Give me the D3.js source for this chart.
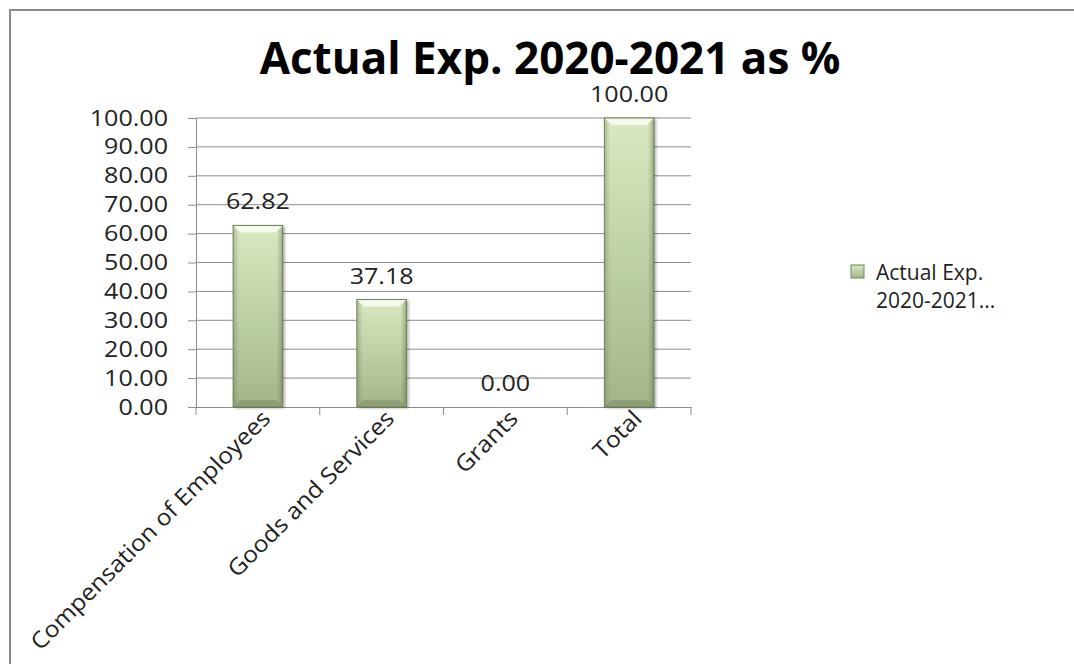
<!DOCTYPE html>
<html>
<head>
<meta charset="utf-8">
<script src="https://cdn.jsdelivr.net/npm/d3@7"></script>
<style>
  html, body { margin: 0; padding: 0; background: #fff; }
  svg { display: block; }
  text { font-family: "Open Sans", "DejaVu Sans", sans-serif; }
</style>
</head>
<body>
<svg id="chart" width="1074" height="664"></svg>
<script>
// ---- data ----
const categories = ["Compensation of Employees", "Goods and Services", "Grants", "Total"];
const values = [62.82, 37.18, 0.00, 100.00];
const yTicks = [0, 10, 20, 30, 40, 50, 60, 70, 80, 90, 100];
const chartTitle = "Actual Exp. 2020-2021 as %";
const legendLines = ["Actual Exp.", "2020-2021..."];

// ---- layout ----
const W = 1074, H = 664;
const plot = { left: 196, right: 691, top: 118, bottom: 407 };
const svg = d3.select("#chart");

// widen glyphs horizontally (reference text is slightly stretched)
function stretch(sel, f) {
  sel.each(function () {
    const len = this.getComputedTextLength();
    d3.select(this).attr("textLength", len * f).attr("lengthAdjust", "spacingAndGlyphs");
  });
}

const x = d3.scaleBand().domain(categories).range([plot.left, plot.right]).paddingInner(0.6).paddingOuter(0.3);
const xOuter = d3.scaleBand().domain(categories).range([plot.left, plot.right]);
const y = d3.scaleLinear().domain([0, 100]).range([plot.bottom, plot.top]);

// defs
const defs = svg.append("defs");
const gv = defs.append("linearGradient").attr("id", "barV").attr("x1", 0).attr("y1", 0).attr("x2", 0).attr("y2", 1);
gv.append("stop").attr("offset", "0%").attr("stop-color", "#d9eac2");
gv.append("stop").attr("offset", "100%").attr("stop-color", "#a3b588");
const gh = defs.append("linearGradient").attr("id", "barH").attr("x1", 0).attr("y1", 0).attr("x2", 1).attr("y2", 0);
gh.append("stop").attr("offset", "0%").attr("stop-color", "#5d6b48").attr("stop-opacity", 0.35);
gh.append("stop").attr("offset", "12%").attr("stop-color", "#5d6b48").attr("stop-opacity", 0.0);
gh.append("stop").attr("offset", "88%").attr("stop-color", "#5d6b48").attr("stop-opacity", 0.0);
gh.append("stop").attr("offset", "100%").attr("stop-color", "#5d6b48").attr("stop-opacity", 0.45);
const shadow = defs.append("filter").attr("id", "shadow").attr("x", "-20%").attr("y", "-5%").attr("width", "150%").attr("height", "115%");
shadow.append("feDropShadow").attr("dx", 2).attr("dy", 1).attr("stdDeviation", 1.5).attr("flood-color", "#000").attr("flood-opacity", 0.35);

// border (only top/left visible in reference)
svg.append("rect").attr("x", 10).attr("y", 10).attr("width", W + 20).attr("height", H + 20)
  .attr("fill", "none").attr("stroke", "#8c8c8c").attr("stroke-width", 2);

// gridlines
svg.append("g").selectAll("line").data(yTicks.filter(d => d > 0)).join("line")
  .attr("x1", plot.left).attr("x2", plot.right)
  .attr("y1", d => y(d)).attr("y2", d => y(d))
  .attr("stroke", "#8c8c8c").attr("stroke-width", 1);

// y axis
const yAxis = svg.append("g").attr("transform", `translate(${plot.left},0)`)
  .call(d3.axisLeft(y).tickValues(yTicks).tickFormat(d3.format(".2f")).tickSize(8).tickPadding(20));
yAxis.select(".domain").attr("stroke", "#8c8c8c");
yAxis.selectAll(".tick line").attr("stroke", "#8c8c8c");
yAxis.selectAll(".tick text").attr("font-size", 22).attr("fill", "#222")
  .attr("font-family", '"Open Sans", sans-serif').call(stretch, 1.14);

// x axis
const xAxis = svg.append("g").attr("transform", `translate(0,${plot.bottom})`)
  .call(d3.axisBottom(xOuter).tickSize(0).tickFormat(""));
xAxis.select(".domain").attr("stroke", "#8c8c8c");
// category boundary ticks
const bounds = categories.map(c => xOuter(c)).concat([plot.right]);
svg.append("g").selectAll("line").data(bounds).join("line")
  .attr("x1", d => d).attr("x2", d => d)
  .attr("y1", plot.bottom).attr("y2", plot.bottom + 8)
  .attr("stroke", "#8c8c8c");

// x labels rotated
svg.append("g").selectAll("text").data(categories).join("text")
  .attr("transform", d => `translate(${xOuter(d) + xOuter.bandwidth() / 2 + 14},${plot.bottom + 13}) rotate(-45)`)
  .attr("text-anchor", "end")
  .attr("font-size", 23)
  .attr("fill", "#222")
  .text(d => d)
  .call(stretch, 1.07);

// bars
const bars = svg.append("g");
categories.forEach((c, i) => {
  const v = values[i];
  if (v <= 0) return;
  const bx = x(c), bw = x.bandwidth(), by = y(v), bh = y(0) - y(v);
  const g = bars.append("g");
  g.append("rect").attr("x", bx).attr("y", by).attr("width", bw).attr("height", bh)
    .attr("fill", "url(#barV)").attr("filter", "url(#shadow)");
  g.append("rect").attr("x", bx).attr("y", by).attr("width", bw).attr("height", bh)
    .attr("fill", "url(#barH)");
  const bev = 7;
  g.append("polygon")
    .attr("points", [[bx, by], [bx + bw, by], [bx + bw - bev, by + bev], [bx + bev, by + bev]].map(p => p.join(",")).join(" "))
    .attr("fill", "#f7fbef").attr("opacity", 0.95);
  g.append("polygon")
    .attr("points", [[bx, by + bh], [bx + bw, by + bh], [bx + bw - bev, by + bh - bev], [bx + bev, by + bh - bev]].map(p => p.join(",")).join(" "))
    .attr("fill", "#879770").attr("opacity", 0.75);
  g.append("rect").attr("x", bx).attr("y", by).attr("width", bw).attr("height", bh)
    .attr("fill", "none").attr("stroke", "#6f7f57").attr("stroke-width", 1);
});

// data labels
svg.append("g").selectAll("text").data(categories).join("text")
  .attr("x", d => x(d) + x.bandwidth() / 2)
  .attr("y", (d, i) => y(values[i]) - 16)
  .attr("text-anchor", "middle")
  .attr("font-size", 22)
  .attr("fill", "#222")
  .text((d, i) => d3.format(".2f")(values[i]))
  .call(stretch, 1.14);

// title
svg.append("text").attr("x", 550).attr("y", 74).attr("text-anchor", "middle")
  .attr("font-size", 44).attr("font-weight", "bold").attr("fill", "#000")
  .text(chartTitle);

// legend
const leg = svg.append("g");
leg.append("rect").attr("x", 851).attr("y", 265).attr("width", 13).attr("height", 13)
  .attr("fill", "url(#barV)").attr("stroke", "#74845c");
leg.selectAll("text").data(legendLines).join("text")
  .attr("x", 876).attr("y", (d, i) => 280 + i * 28)
  .attr("font-size", 21).attr("fill", "#222")
  .text(d => d);
</script>
</body>
</html>
